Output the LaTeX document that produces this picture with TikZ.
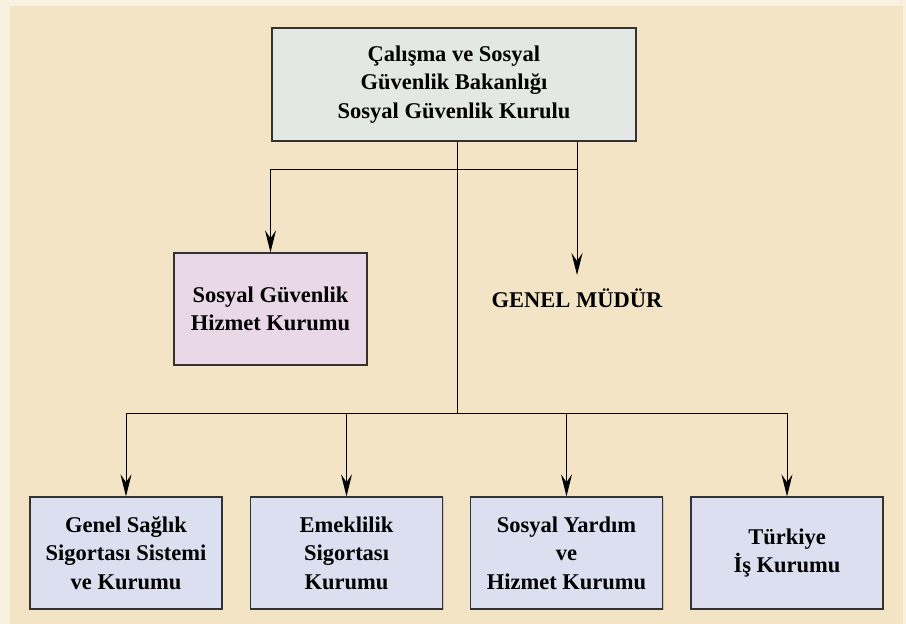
\documentclass[tikz,border=0pt]{standalone}
\usepackage{fontspec}
\setmainfont{Liberation Serif}
\usetikzlibrary{arrows.meta,shadows}
\definecolor{outerbg}{HTML}{F8F0E0}
\definecolor{innerbg}{HTML}{F2E4C4}
\definecolor{topfill}{HTML}{E4E8E4}
\definecolor{pinkfill}{HTML}{E8D8E8}
\definecolor{bluefill}{HTML}{DCDFF0}
\definecolor{edge}{HTML}{333333}
\tikzset{
  txt/.style={font=\bfseries\fontsize{22.5}{28.5}\selectfont},
  orgbox/.style={txt, draw=edge, line width=1.4pt, align=center, inner sep=0pt,
    drop shadow={shadow xshift=1.2pt, shadow yshift=-1.2pt, fill=black!30, opacity=0.6}},
  arr/.style={-{Stealth[length=22pt,width=11pt,inset=8pt]}, line width=1pt},
  conn/.style={line width=1pt}
}
\begin{document}
\begin{tikzpicture}[x=1pt,y=-1pt]
\useasboundingbox (0,0) rectangle (906,624);
\fill[outerbg] (0,0) rectangle (906,624);
\fill[innerbg] (10,6) rectangle (903,624);

\node[orgbox, fill=topfill, minimum width=364pt, minimum height=113pt] (top) at (454,84.5)
  {Çalışma ve Sosyal\\Güvenlik Bakanlığı\\Sosyal Güvenlik Kurulu};
\node[orgbox, fill=pinkfill, minimum width=193pt, minimum height=112pt] (sgk) at (270.5,309)
  {Sosyal Güvenlik\\Hizmet Kurumu};
\node[txt, inner sep=0pt] (gm) at (577,298) {GENEL MÜDÜR};

\node[orgbox, fill=bluefill, minimum width=192pt, minimum height=112pt] (b1) at (126,553)
  {Genel Sağlık\\Sigortası Sistemi\\ve Kurumu};
\node[orgbox, fill=bluefill, minimum width=192pt, minimum height=112pt] (b2) at (346.5,553)
  {Emeklilik\\Sigortası\\Kurumu};
\node[orgbox, fill=bluefill, minimum width=192pt, minimum height=112pt] (b3) at (566.5,553)
  {Sosyal Yardım\\ve\\Hizmet Kurumu};
\node[orgbox, fill=bluefill, minimum width=192pt, minimum height=112pt] (b4) at (787,553)
  {Türkiye\\İş Kurumu};

\coordinate (ht) at (577,169);
\coordinate (gmtip) at (577,275);
\coordinate (hb) at (457,413);

% upper branch
\draw[conn] (top.south -| ht) -- (ht);
\draw[arr] (ht) -- (gmtip);
\draw[conn] (ht) -- (sgk.north |- ht);
\draw[arr] (sgk.north |- ht) -- (sgk.north);

% central trunk
\draw[conn] (top.south -| hb) -- (hb);
\draw[conn] (b1.north |- hb) -- (b4.north |- hb);
\draw[arr] (b1.north |- hb) -- (b1.north);
\draw[arr] (b2.north |- hb) -- (b2.north);
\draw[arr] (b3.north |- hb) -- (b3.north);
\draw[arr] (b4.north |- hb) -- (b4.north);
\end{tikzpicture}
\end{document}
